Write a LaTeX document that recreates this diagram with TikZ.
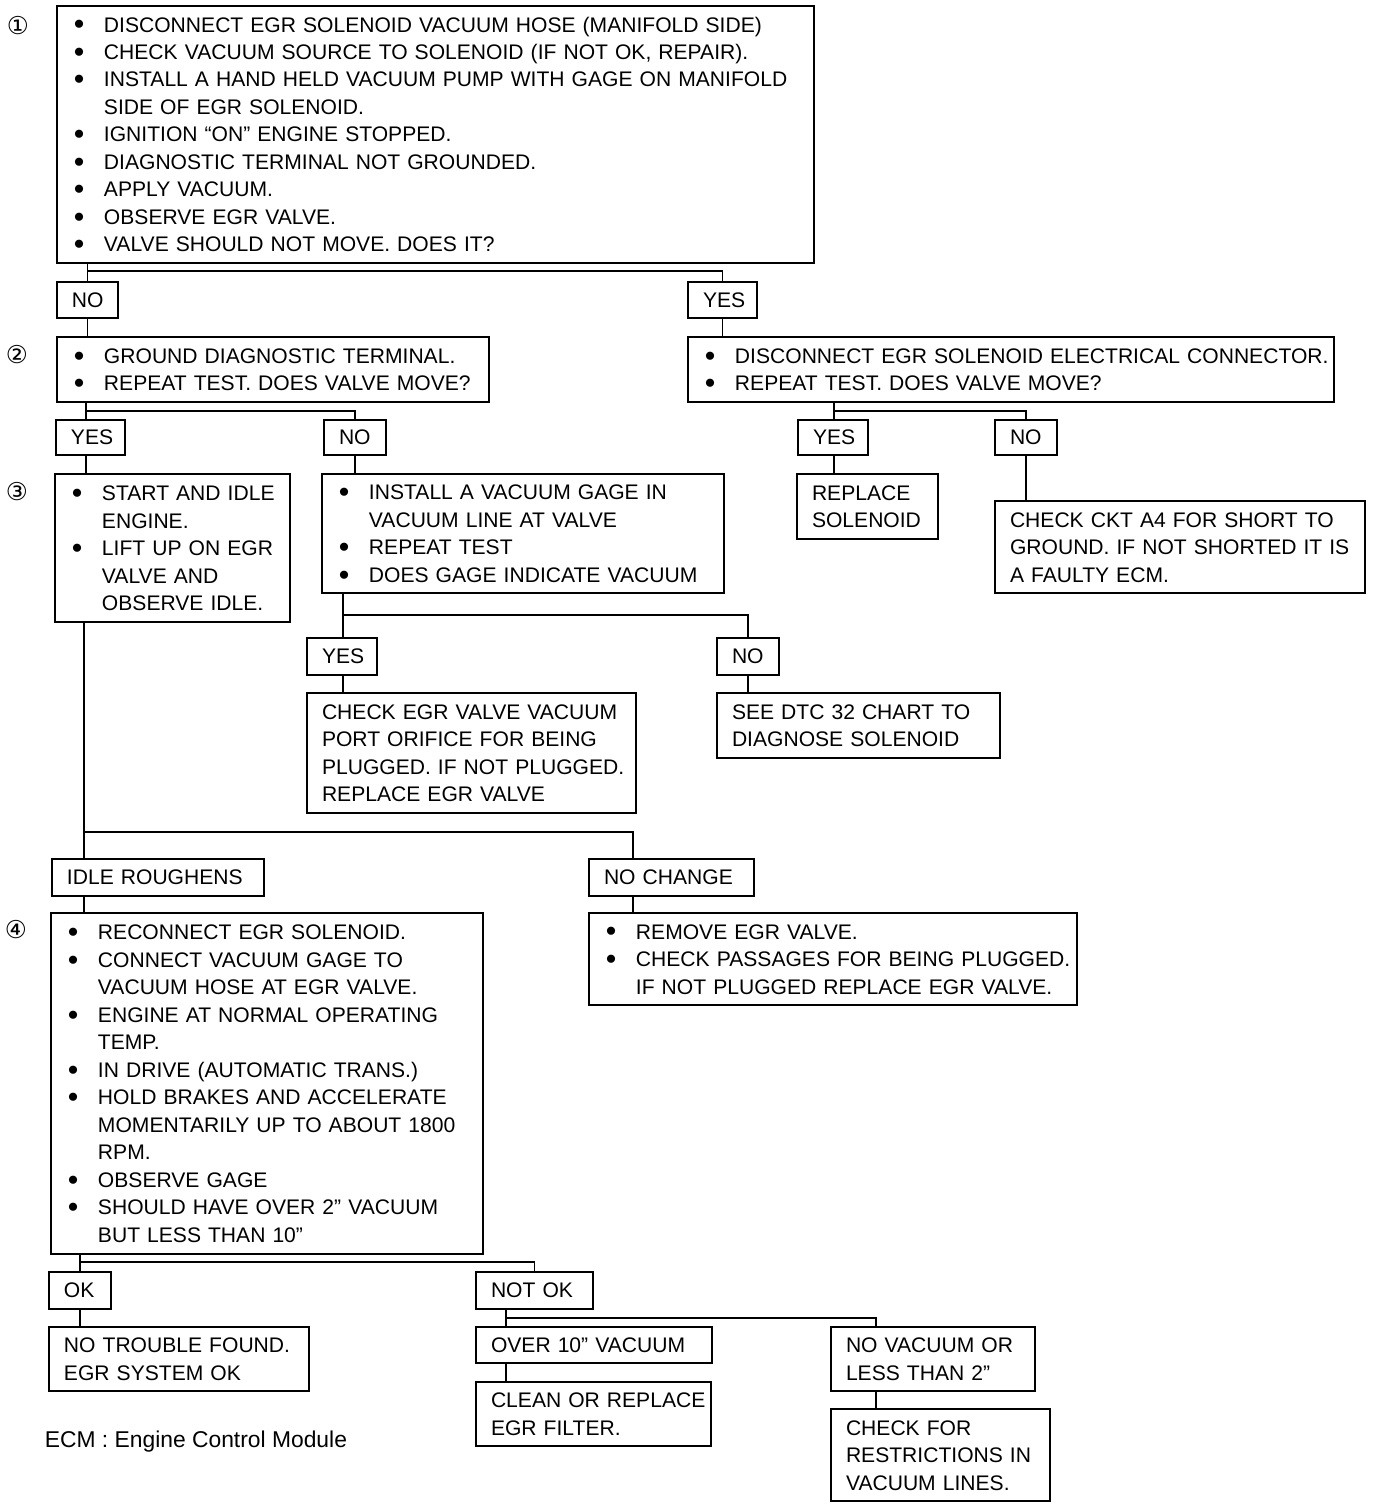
\documentclass[tikz,border=0pt]{standalone}
\usepackage{fontspec}
\setmainfont{Liberation Sans}
\newfontfamily\dejavu{DejaVu Sans}
\newcommand\bul{\raisebox{1.2pt}{$\bullet$}}
\newcommand\boxfont{\fontsize{12}{15.65}\selectfont\setbox\strutbox\hbox{\vrule height 12.1pt depth 3.55pt width 0pt}}
\begin{document}
\begin{tikzpicture}
[x=0.02cm, y=-0.02cm, line width=1pt, font=\boxfont]
\tikzstyle{box}=[draw, rectangle, anchor=north west, inner xsep=0.3cm, inner ysep=0pt, outer sep=0pt, align=left]
\tikzstyle{num}=[inner sep=0pt, font=\dejavu\fontsize{14}{14}\selectfont]
\useasboundingbox (0,0) rectangle (1376,1508);

% step numbers
\node[num] (n1) at (18,26) {①};
\node[num] (n2) at (17,355) {②};
\node[num] (n3) at (17,492) {③};
\node[num] (n4) at (16,930) {④};

% step 1
\node[box, text width=14.54cm, minimum height=5.14cm] (q1) at (57,6) {\begin{tabular}{@{\hspace{1pt}}l@{\hspace{11.2pt}}l@{}}
\bul & DISCONNECT EGR SOLENOID VACUUM HOSE (MANIFOLD SIDE)\\
\bul & CHECK VACUUM SOURCE TO SOLENOID (IF NOT OK, REPAIR).\\
\bul & INSTALL A HAND HELD VACUUM PUMP WITH GAGE ON MANIFOLD\\
     & SIDE OF EGR SOLENOID.\\
\bul & IGNITION “ON” ENGINE STOPPED.\\
\bul & DIAGNOSTIC TERMINAL NOT GROUNDED.\\
\bul & APPLY VACUUM.\\
\bul & OBSERVE EGR VALVE.\\
\bul & VALVE SHOULD NOT MOVE. DOES IT?
\end{tabular}};
\node[box, text width=0.62cm, minimum height=0.72cm] (no1) at (57,282) {NO};
\node[box, text width=0.78cm, minimum height=0.72cm] (yes1) at (688,282) {YES};

% step 2
\node[box, text width=8.04cm, minimum height=1.30cm] (q2L) at (57,337) {\begin{tabular}{@{\hspace{1pt}}l@{\hspace{11.2pt}}l@{}}
\bul & GROUND DIAGNOSTIC TERMINAL.\\
\bul & REPEAT TEST. DOES VALVE MOVE?
\end{tabular}};
\node[box, text width=12.32cm, minimum height=1.30cm] (q2R) at (688,337) {\begin{tabular}{@{\hspace{1pt}}l@{\hspace{11.2pt}}l@{}}
\bul & DISCONNECT EGR SOLENOID ELECTRICAL CONNECTOR.\\
\bul & REPEAT TEST. DOES VALVE MOVE?
\end{tabular}};
\node[box, text width=0.78cm, minimum height=0.70cm] (yes2a) at (56,420) {YES};
\node[box, text width=0.64cm, minimum height=0.70cm] (no2a) at (324,420) {NO};
\node[box, text width=0.80cm, minimum height=0.70cm] (yes2b) at (798,420) {YES};
\node[box, text width=0.64cm, minimum height=0.70cm] (no2b) at (995,420) {NO};

% step 3
\node[box, text width=4.10cm, minimum height=2.96cm] (q3a) at (55,474) {\begin{tabular}{@{\hspace{1pt}}l@{\hspace{11.2pt}}l@{}}
\bul & START AND IDLE\\
     & ENGINE.\\
\bul & LIFT UP ON EGR\\
     & VALVE AND\\
     & OBSERVE IDLE.
\end{tabular}};
\node[box, text width=7.44cm, minimum height=2.38cm] (q3b) at (322,474) {\begin{tabular}{@{\hspace{1pt}}l@{\hspace{11.2pt}}l@{}}
\bul & INSTALL A VACUUM GAGE IN\\
     & VACUUM LINE AT VALVE\\
\bul & REPEAT TEST\\
\bul & DOES GAGE INDICATE VACUUM
\end{tabular}};
\node[box, text width=2.22cm, minimum height=1.30cm] (rep) at (797,474) {\begin{tabular}{@{}l@{}}
REPLACE\\ SOLENOID
\end{tabular}};
\node[box, text width=6.80cm, minimum height=1.84cm] (ckt) at (995,501) {\begin{tabular}{@{}l@{}}
CHECK CKT A4 FOR SHORT TO\\ GROUND. IF NOT SHORTED IT IS\\ A FAULTY ECM.
\end{tabular}};
\node[box, text width=0.80cm, minimum height=0.74cm] (yes3) at (307,638) {YES};
\node[box, text width=0.64cm, minimum height=0.74cm] (no3) at (717,638) {NO};
\node[box, text width=5.98cm, minimum height=2.40cm] (chk) at (307,693) {\begin{tabular}{@{}l@{}}
CHECK EGR VALVE VACUUM\\ PORT ORIFICE FOR BEING\\ PLUGGED. IF NOT PLUGGED.\\ REPLACE EGR VALVE
\end{tabular}};
\node[box, text width=5.06cm, minimum height=1.30cm] (dtc) at (717,693) {\begin{tabular}{@{}l@{}}
SEE DTC 32 CHART TO\\ DIAGNOSE SOLENOID
\end{tabular}};
\node[box, text width=3.64cm, minimum height=0.74cm] (idle) at (52,859) {IDLE ROUGHENS};
\node[box, text width=2.70cm, minimum height=0.74cm] (nochg) at (589,859) {NO CHANGE};

% step 4
\node[box, text width=8.04cm, minimum height=6.82cm] (q4) at (51,913) {\begin{tabular}{@{\hspace{1pt}}l@{\hspace{11.2pt}}l@{}}
\bul & RECONNECT EGR SOLENOID.\\
\bul & CONNECT VACUUM GAGE TO\\
     & VACUUM HOSE AT EGR VALVE.\\
\bul & ENGINE AT NORMAL OPERATING\\
     & TEMP.\\
\bul & IN DRIVE (AUTOMATIC TRANS.)\\
\bul & HOLD BRAKES AND ACCELERATE\\
     & MOMENTARILY UP TO ABOUT 1800\\
     & RPM.\\
\bul & OBSERVE GAGE\\
\bul & SHOULD HAVE OVER 2” VACUUM\\
     & BUT LESS THAN 10”
\end{tabular}};
\node[box, text width=9.16cm, minimum height=1.84cm] (q4R) at (589,913) {\begin{tabular}{@{\hspace{1pt}}l@{\hspace{11.2pt}}l@{}}
\bul & REMOVE EGR VALVE.\\
\bul & CHECK PASSAGES FOR BEING PLUGGED.\\
     & IF NOT PLUGGED REPLACE EGR VALVE.
\end{tabular}};
\node[box, text width=0.64cm, minimum height=0.74cm] (ok) at (49,1272) {OK};
\node[box, text width=1.74cm, minimum height=0.74cm] (notok) at (476,1272) {NOT OK};
\node[box, text width=4.60cm, minimum height=1.28cm] (ntf) at (49,1327) {\begin{tabular}{@{}l@{}}
NO TROUBLE FOUND.\\ EGR SYSTEM OK
\end{tabular}};
\node[box, text width=4.12cm, minimum height=0.72cm] (over) at (476,1327) {OVER 10” VACUUM};
\node[box, text width=4.10cm, minimum height=1.28cm] (clean) at (476,1382) {\begin{tabular}{@{}l@{}}
CLEAN OR REPLACE\\ EGR FILTER.
\end{tabular}};
\node[box, text width=3.48cm, minimum height=1.28cm] (novac) at (831,1327) {\begin{tabular}{@{}l@{}}
NO VACUUM OR\\ LESS THAN 2”
\end{tabular}};
\node[box, text width=3.78cm, minimum height=1.84cm] (chkfor) at (831,1409) {\begin{tabular}{@{}l@{}}
CHECK FOR\\ RESTRICTIONS IN\\ VACUUM LINES.
\end{tabular}};

\node[anchor=west, inner sep=0pt, font=\fontsize{13}{15}\selectfont] (ecm) at (44,1442) {ECM : Engine Control Module};

% branch points
\coordinate (s1) at (88,271);
\coordinate (s2) at (86,411);
\coordinate (s2b) at (834,411);
\coordinate (s3) at (343,615);
\coordinate (s4) at (84,832);
\coordinate (t4) at (633,832);
\coordinate (s5) at (80,1262);
\coordinate (s6) at (506,1318);
\coordinate (t6) at (876,1318);

\draw (q1.south -| no1) -- (no1);
\draw (no1 |- s1) -| (yes1);
\draw (no1) -- (q2L.north -| no1);
\draw (yes1) -- (q2R.north -| yes1);

\draw (q2L.south -| s2) -- (yes2a.north -| s2);
\draw (s2) -| (no2a);
\draw (yes2a.south -| s2) -- (q3a.north -| s2);
\draw (no2a) -- (q3b.north -| no2a);
\draw (q2R.south -| s2b) -- (yes2b.north -| s2b);
\draw (s2b) -| (no2b);
\draw (yes2b.south -| s2b) -- (rep.north -| s2b);
\draw (no2b) -- (ckt.north -| no2b);

\draw (q3b.south -| s3) -- (yes3.north -| s3);
\draw (s3) -| (no3);
\draw (yes3.south -| s3) -- (chk.north -| s3);
\draw (no3) -- (dtc.north -| no3);

\draw (q3a.south -| s4) -- (idle.north -| s4);
\draw (s4) -- (t4) -- (nochg.north -| t4);
\draw (idle.south -| s4) -- (q4.north -| s4);
\draw (nochg.south -| t4) -- (q4R.north -| t4);

\draw (q4.south -| s5) -- (ok.north -| s5);
\draw (s5) -| (notok);
\draw (ok.south -| s5) -- (ntf.north -| s5);
\draw (notok.south -| s6) -- (over.north -| s6);
\draw (s6) -- (t6) -- (novac.north -| t6);
\draw (over.south -| s6) -- (clean.north -| s6);
\draw (novac.south -| t6) -- (chkfor.north -| t6);
\end{tikzpicture}
\end{document}
